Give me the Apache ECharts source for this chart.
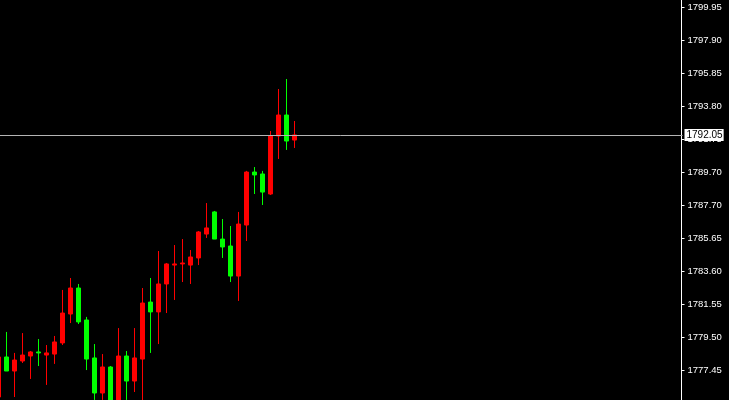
<!DOCTYPE html>
<html>
<head>
<meta charset="utf-8">
<script src="https://cdn.jsdelivr.net/npm/echarts@6/dist/echarts.min.js"></script>
<style>
html,body{margin:0;padding:0;background:#000;}
#chart{width:729px;height:400px;}
</style>
</head>
<body>
<div id="chart"></div>
<script>
// Candle data (oldest first)
const opens  = [1775.82,1778.30,1777.43,1778.05,1778.36,1778.61,1778.42,1778.48,1779.17,1780.96,1782.57,1780.59,1778.24,1776.07,1777.68,1775.51,1778.36,1776.81,1778.17,1781.70,1781.09,1782.82,1783.99,1784.06,1783.99,1784.43,1785.91,1787.28,1785.60,1785.17,1783.31,1786.47,1789.75,1789.63,1788.39,1791.98,1793.28,1791.73];
const closes = [1778.30,1777.43,1778.11,1778.42,1778.61,1778.55,1778.55,1779.23,1781.02,1782.57,1780.47,1778.17,1776.07,1777.68,1775.51,1778.36,1776.81,1778.24,1781.64,1781.09,1782.82,1784.06,1784.06,1784.12,1784.49,1786.04,1786.29,1785.60,1785.11,1783.31,1786.53,1789.75,1789.57,1788.51,1791.98,1793.28,1791.67,1792.05];
const lows   = [1775.70,1777.43,1775.82,1777.93,1776.94,1777.74,1776.57,1777.87,1779.04,1780.40,1780.34,1777.49,1775.64,1775.64,1775.45,1775.33,1775.64,1776.13,1775.51,1778.55,1779.10,1781.02,1781.83,1782.94,1782.82,1783.99,1785.67,1785.60,1784.43,1782.94,1781.77,1785.48,1788.39,1787.71,1788.33,1790.56,1791.12,1791.24];
const highs  = [1778.42,1779.85,1778.55,1779.78,1778.67,1779.41,1779.04,1779.60,1782.45,1783.19,1782.82,1780.78,1779.10,1778.48,1777.74,1780.09,1778.67,1780.09,1782.57,1783.19,1784.86,1784.12,1785.23,1785.60,1784.92,1786.10,1787.83,1787.34,1786.84,1786.41,1787.28,1789.82,1790.06,1789.82,1792.29,1794.89,1795.51,1792.91];

// price-axis tick labels (bottom to top)
const tickLabels = ['1777.45','1779.50','1781.55','1783.60','1785.65','1787.70','1789.70','1791.75','1793.80','1795.85','1797.90','1799.95'];
const currentPrice = 1792.05;
const slotCount = 86; // candle slots visible across the chart window

const categories = [];
for (let i = 0; i < slotCount; i++) categories.push(String(i + 1));
const candleData = opens.map((o, i) => [o, closes[i], lows[i], highs[i]]);

const tickStep = (parseFloat(tickLabels[tickLabels.length - 1]) - parseFloat(tickLabels[0])) / (tickLabels.length - 1);
const yMin = parseFloat(tickLabels[0]) - tickStep;
const yMax = parseFloat(tickLabels[tickLabels.length - 1]) + tickStep;

const chart = echarts.init(document.getElementById('chart'), null, {renderer: 'canvas'});
chart.setOption({
  backgroundColor: '#000000',
  animation: false,
  grid: {left: -5.5, right: 46.5, top: -25.74, bottom: -3.74, containLabel: false, outerBoundsMode: 'none'},
  xAxis: {
    type: 'category',
    data: categories,
    boundaryGap: true,
    axisLine: {show: false},
    axisTick: {show: false},
    axisLabel: {show: false},
    splitLine: {show: false}
  },
  yAxis: {
    type: 'value',
    position: 'right',
    offset: -1,
    min: yMin,
    max: yMax,
    interval: tickStep,
    axisLine: {show: true, lineStyle: {color: '#ffffff', width: 1}},
    axisTick: {show: true, inside: false, length: 3, lineStyle: {color: '#ffffff'}},
    splitLine: {show: false},
    axisLabel: {
      color: '#ffffff',
      fontFamily: 'Liberation Sans',
      fontSize: 9.5,
      margin: 6,
      formatter: function (v) {
        const k = Math.round((v - yMin) / tickStep) - 1;
        return (k >= 0 && k < tickLabels.length) ? tickLabels[k] : '';
      }
    }
  },
  series: [{
    type: 'candlestick',
    data: candleData,
    barWidth: 4,
    itemStyle: {
      color: '#ff0000',
      color0: '#00ff00',
      borderColor: '#ff0000',
      borderColor0: '#00ff00',
      borderWidth: 1
    },
    markLine: {
      silent: true,
      symbol: ['none', 'none'],
      animation: false,
      lineStyle: {color: '#b4b4b4', width: 1, type: 'solid'},
      label: {
        show: true,
        position: 'end',
        distance: 2,
        color: '#000000',
        backgroundColor: '#ffffff',
        fontFamily: 'Liberation Sans',
        fontSize: 10,
        lineHeight: 11,
        padding: [1, 1, 0, 2],
        formatter: function () { return currentPrice.toFixed(2); }
      },
      data: [{yAxis: currentPrice}]
    }
  }]
});
</script>
</body>
</html>
